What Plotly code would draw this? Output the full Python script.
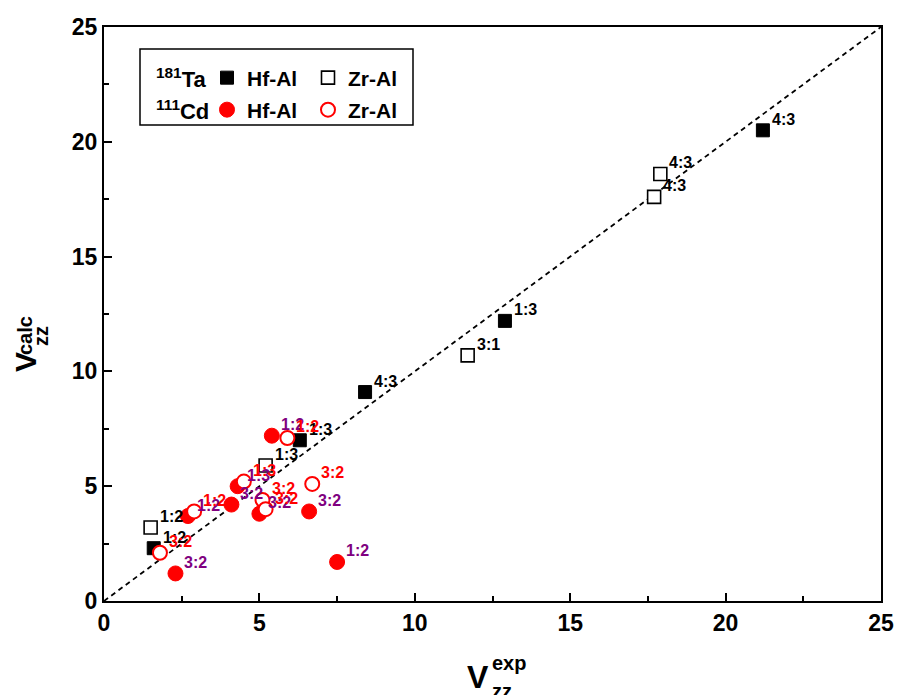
import plotly.graph_objects as go

# ---------------- data ----------------
ta_hf_x = [21.2, 12.9, 8.4, 6.3, 1.6]
ta_hf_y = [20.5, 12.2, 9.1, 7.0, 2.3]
ta_hf_lab = ["4:3", "1:3", "4:3", "1:3", "1:2"]

ta_zr_x = [17.9, 17.7, 11.7, 5.2, 1.5]
ta_zr_y = [18.6, 17.6, 10.7, 5.9, 3.2]
ta_zr_lab = ["4:3", "4:3", "3:1", "1:3", "1:2"]

cd_hf_x = [5.4, 6.6, 7.5, 2.3, 4.1, 4.3, 5.0, 2.7]
cd_hf_y = [7.2, 3.9, 1.7, 1.2, 4.2, 5.0, 3.8, 3.7]
cd_hf_lab = ["1:2", "3:2", "1:2", "3:2", "3:2", "1:3", "3:2", "1:2"]

cd_zr_x = [5.9, 6.7, 4.5, 5.1, 5.2, 2.9, 1.8]
cd_zr_y = [7.1, 5.1, 5.2, 4.4, 4.0, 3.9, 2.1]
cd_zr_lab = ["1:2", "3:2", "1:3", "3:2", "3:2", "1:2", "3:2"]

diag = [0, 25]
axis_range = [0, 25]

FONT = "Liberation Sans, Arial, sans-serif"
PURPLE = "#800080"
RED = "#ff0000"

# plot-area geometry in pixels (for paper-coordinate helpers)
L, R, T, B = 104, 881, 27, 601
W, H = R - L, B - T


def px(xp):
    return (xp - L) / W


def py(yp):
    return (B - yp) / H


fig = go.Figure()

# y = x reference line
fig.add_trace(go.Scatter(x=diag, y=diag, mode="lines",
                         line=dict(color="black", width=1.8, dash="5px,4px"),
                         showlegend=False, hoverinfo="skip"))

fig.add_trace(go.Scatter(x=ta_hf_x, y=ta_hf_y, mode="markers", name="Hf-Al",
                         marker=dict(symbol="square", size=13, color="black",
                                     line=dict(color="black", width=1)),
                         legend="legend"))
fig.add_trace(go.Scatter(x=ta_zr_x, y=ta_zr_y, mode="markers", name="Zr-Al",
                         marker=dict(symbol="square", size=13, color="white",
                                     line=dict(color="black", width=1.6)),
                         legend="legend"))
fig.add_trace(go.Scatter(x=cd_hf_x, y=cd_hf_y, mode="markers", name="Hf-Al",
                         marker=dict(symbol="circle", size=15, color=RED,
                                     line=dict(color=RED, width=1)),
                         legend="legend2"))
fig.add_trace(go.Scatter(x=cd_zr_x, y=cd_zr_y, mode="markers", name="Zr-Al",
                         marker=dict(symbol="circle", size=14, color="white",
                                     line=dict(color=RED, width=2)),
                         legend="legend2"))

annotations = []


def add_labels(xs, ys, labs, color):
    for xv, yv, t in zip(xs, ys, labs):
        annotations.append(dict(x=xv, y=yv, xref="x", yref="y", text=t,
                                showarrow=False, xanchor="left", yanchor="middle",
                                xshift=7, yshift=11,
                                font=dict(family=FONT, size=16, color=color,
                                          weight="bold")))


add_labels(ta_hf_x, ta_hf_y, ta_hf_lab, "black")
add_labels(ta_zr_x, ta_zr_y, ta_zr_lab, "black")
add_labels(cd_hf_x, cd_hf_y, cd_hf_lab, PURPLE)
add_labels(cd_zr_x, cd_zr_y, cd_zr_lab, RED)

# axis titles built from pieces (stacked sub/superscripts)
big = dict(family=FONT, size=32, color="black", weight="bold")
bigy = dict(family=FONT, size=30, color="black", weight="bold")
small = dict(family=FONT, size=20, color="black", weight="bold")
annotations += [
    dict(text="V", x=px(477.5), y=py(677), xref="paper", yref="paper", showarrow=False,
         xanchor="center", yanchor="middle", font=big),
    dict(text="exp", x=px(490), y=py(662.5), xref="paper", yref="paper", showarrow=False,
         xanchor="left", yanchor="middle", font=small),
    dict(text="zz", x=px(490), y=py(691), xref="paper", yref="paper", showarrow=False,
         xanchor="left", yanchor="middle", font=small),
    dict(text="V", x=px(25), y=py(362), xref="paper", yref="paper", showarrow=False,
         xanchor="center", yanchor="middle", textangle=-90, font=bigy),
    dict(text="calc", x=px(25), y=py(336), xref="paper", yref="paper", showarrow=False,
         xanchor="center", yanchor="middle", textangle=-90, font=small),
    dict(text="zz", x=px(41), y=py(336), xref="paper", yref="paper", showarrow=False,
         xanchor="center", yanchor="middle", textangle=-90, font=small),
    # legend row labels
    dict(text="<sup>181</sup>Ta", x=px(154), y=py(78),
         xref="paper", yref="paper", showarrow=False, xanchor="left", yanchor="middle",
         font=dict(family=FONT, size=22, color="black", weight="bold")),
    dict(text="<sup>111</sup>Cd", x=px(154), y=py(110),
         xref="paper", yref="paper", showarrow=False, xanchor="left", yanchor="middle",
         font=dict(family=FONT, size=22, color="black", weight="bold")),
]

axis_common = dict(range=axis_range, tick0=0, dtick=5, ticks="inside", ticklen=8,
                   tickwidth=2, tickcolor="black", showline=True, linewidth=2,
                   linecolor="black", mirror=True, showgrid=False, zeroline=False,
                   automargin=False,
                   tickfont=dict(family=FONT, size=23, color="black", weight="bold"),
                   minor=dict(ticks="inside", ticklen=5, tickwidth=2,
                              tickcolor="black", dtick=2.5, showgrid=False))

leg_common = dict(orientation="h", xanchor="left", yanchor="middle",
                  bgcolor="rgba(0,0,0,0)", borderwidth=0, entrywidth=56,
                  font=dict(family=FONT, size=21, color="black", weight="bold"),
                  tracegroupgap=0, itemclick=False, itemdoubleclick=False)

fig.update_layout(
    width=899, height=695,
    margin=dict(l=L, r=899 - R, t=T, b=695 - B, autoexpand=False),
    paper_bgcolor="white", plot_bgcolor="white",
    xaxis=axis_common, yaxis=axis_common,
    annotations=annotations,
    legend=dict(x=px(207), y=py(78), **leg_common),
    legend2=dict(x=px(207), y=py(110), **leg_common),
    shapes=[dict(type="rect", xref="paper", yref="paper",
                 x0=px(140), x1=px(413), y0=py(125), y1=py(49),
                 line=dict(color="black", width=1.5), fillcolor="rgba(0,0,0,0)")],
    font=dict(family=FONT),
)

fig.write_html("out.html")
